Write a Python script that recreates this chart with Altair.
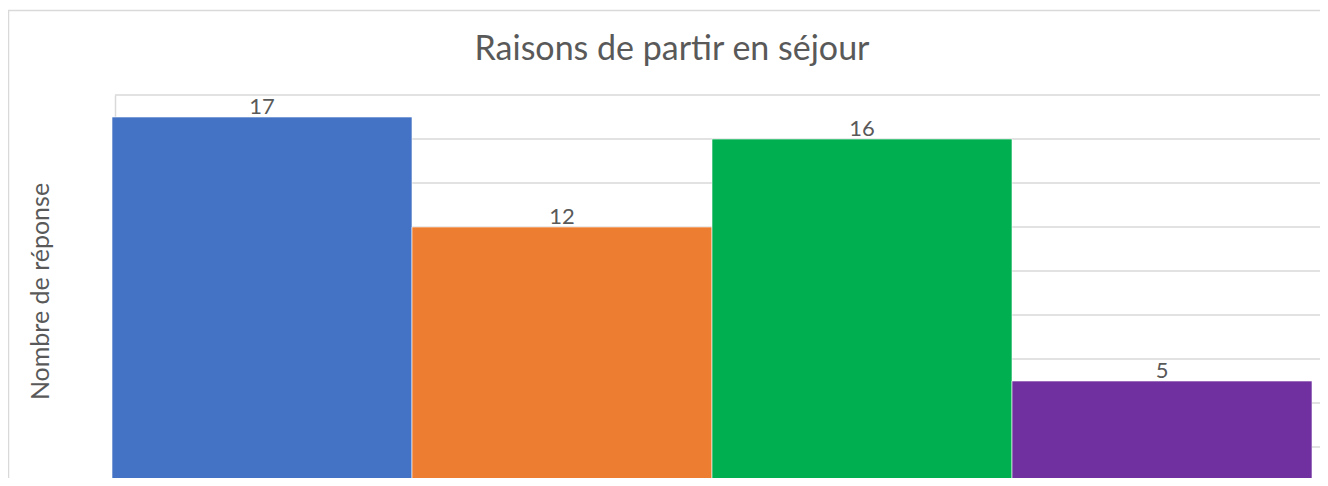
import altair as alt
import pandas as pd

categories = ["Catégorie 1", "Catégorie 2", "Catégorie 3", "Catégorie 4"]
values = [17, 12, 16, 5]
colors = ["#4472C4", "#ED7D31", "#00B050", "#7030A0"]
grid_values = [2, 4, 6, 8, 10, 12, 14, 16, 18]

FONT = "Lato"
TEXT = "#595959"
GRID = "#d9d9d9"

df = pd.DataFrame({"cat": categories, "val": values})
grid_df = pd.DataFrame({"g": grid_values})
one = pd.DataFrame({"a": [0]})

H = 383
W = 1200
ydom = [18 - H / 22.0, 18]

yscale = alt.Scale(domain=ydom, nice=False, zero=False)
xenc = alt.X("cat:N", sort=categories,
             scale=alt.Scale(paddingInner=0, paddingOuter=0), axis=None)

border = alt.Chart(one).mark_rect(fill="transparent", stroke=GRID, strokeWidth=1.5, clip=False).encode(
    x=alt.value(-103.5), x2=alt.value(1260), y=alt.value(-84.5), y2=alt.value(500)
)

grid = alt.Chart(grid_df).mark_rule(color=GRID, strokeWidth=1.5, clip=False).encode(
    y=alt.Y("g:Q", scale=yscale,
            axis=alt.Axis(title="Nombre de réponse", labels=False, ticks=False, grid=False,
                          domain=True, domainColor=GRID, domainWidth=1.5, offset=-3,
                          titleFont=FONT, titleFontSize=25, titleFontWeight="normal",
                          titleColor=TEXT, titleX=-62, titleY=196)),
    x=alt.value(3), x2=alt.value(1208)
)

bars = alt.Chart(df).mark_bar(clip=True, stroke="white", strokeWidth=1, strokeOpacity=0.6).encode(
    x=xenc,
    y=alt.Y("val:Q", scale=yscale),
    color=alt.Color("cat:N", sort=categories,
                    scale=alt.Scale(domain=categories, range=colors), legend=None)
)

labels = alt.Chart(df).mark_text(font=FONT, fontSize=22, color=TEXT, baseline="alphabetic", dy=-3).encode(
    x=xenc,
    y=alt.Y("val:Q", scale=yscale),
    text=alt.Text("val:Q")
)

chart = alt.layer(border, grid, bars, labels).properties(
    width=W, height=H,
    padding={"left": 104, "top": 87, "right": 8, "bottom": 0},
    autosize=alt.AutoSizeParams(type="none"),
    background="white",
    title=alt.TitleParams("Raisons de partir en séjour", font=FONT, fontSize=34,
                          fontWeight="normal", color=TEXT, offset=0, dy=57, dx=-40, anchor="middle"),
).configure_view(stroke=None)

chart.save("out.html", embed_options={"renderer": "svg", "actions": False})
